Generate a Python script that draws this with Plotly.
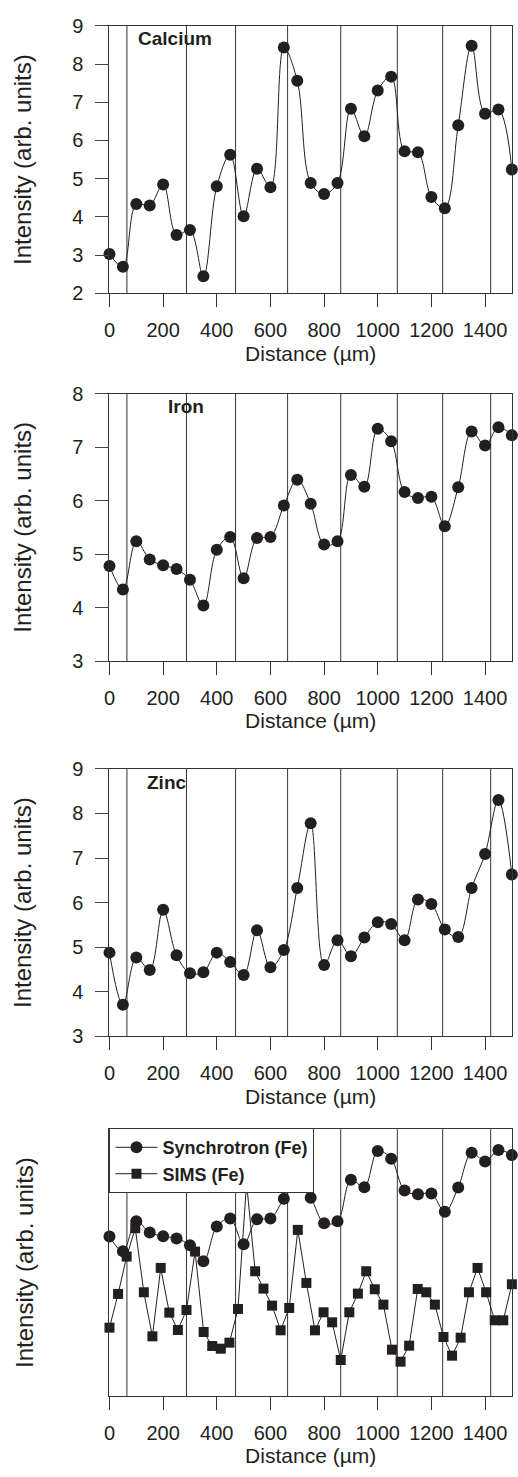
import plotly.graph_objects as go

# ---- data -------------------------------------------------------------
distance = [0, 50, 100, 150, 200, 250, 300, 350, 400, 450, 500, 550, 600,
            650, 700, 750, 800, 850, 900, 950, 1000, 1050, 1100, 1150, 1200,
            1250, 1300, 1350, 1400, 1450, 1500]

calcium = [3.03, 2.70, 4.34, 4.30, 4.85, 3.53, 3.66, 2.45, 4.80, 5.63, 4.02,
           5.26, 4.78, 8.43, 7.56, 4.89, 4.60, 4.89, 6.83, 6.11, 7.31, 7.67,
           5.72, 5.69, 4.52, 4.23, 6.40, 8.48, 6.70, 6.81, 5.24]

iron = [4.78, 4.34, 5.24, 4.90, 4.79, 4.72, 4.52, 4.04, 5.08, 5.32, 4.55,
        5.30, 5.32, 5.91, 6.39, 5.94, 5.18, 5.24, 6.48, 6.26, 7.34, 7.11,
        6.16, 6.05, 6.07, 5.52, 6.25, 7.29, 7.03, 7.37, 7.22]

zinc = [4.88, 3.71, 4.77, 4.49, 5.84, 4.82, 4.42, 4.44, 4.88, 4.67, 4.38,
        5.38, 4.55, 4.94, 6.33, 7.78, 4.60, 5.16, 4.80, 5.22, 5.56, 5.52,
        5.16, 6.07, 5.97, 5.40, 5.23, 6.33, 7.09, 8.30, 6.63]

sims_distance = [0, 32, 64, 96, 128, 160, 191, 223, 255, 287, 319, 351, 383,
                 415, 447, 479, 511, 543, 574, 606, 638, 670, 702, 734, 766,
                 798, 830, 862, 894, 926, 957, 989, 1021, 1053, 1085, 1117,
                 1149, 1181, 1213, 1245, 1277, 1309, 1340, 1372, 1404, 1436,
                 1468, 1500]

sims_fe = [2.05, 3.06, 4.18, 5.03, 3.11, 1.79, 3.84, 2.50, 1.98, 2.58, 4.33,
           1.92, 1.50, 1.42, 1.60, 2.61, 6.38, 3.74, 3.22, 2.71, 1.97, 2.64,
           4.98, 3.39, 1.97, 2.51, 2.21, 1.08, 2.51, 3.07, 3.74, 3.20, 2.74,
           1.39, 1.03, 1.51, 3.21, 3.11, 2.74, 1.77, 1.21, 1.75, 3.11, 3.84,
           3.11, 2.27, 2.27, 3.35]

band_edges = [65, 287, 470, 664, 862, 1073, 1242, 1421]
x_ticks = [0, 200, 400, 600, 800, 1000, 1200, 1400]

# ---- layout geometry (pixels) ----------------------------------------
W, H = 518, 1477
PLOT_L, PLOT_R = 104.7, 511.8
PANELS = [(15.0, 286.7), (388.3, 660.0), (769.3, 1041.0), (1135.0, 1406.0)]
Y_RANGES = [(2, 9), (3, 8), (3, 9), (0, 8)]

INK = "#231f20"
FONT = "Liberation Sans, Arial, sans-serif"

fig = go.Figure()


def ax_name(kind, i):
    return kind if i == 0 else f"{kind}{i + 1}"


def ref(kind, i):
    return kind if i == 0 else f"{kind}{i + 1}"


circle = dict(symbol="circle", size=12, color=INK, line=dict(width=0))
square = dict(symbol="square", size=10, color=INK, line=dict(width=0))

for i, series in enumerate([calcium, iron, zinc]):
    fig.add_trace(go.Scatter(
        x=distance, y=series, mode="lines+markers",
        line=dict(color=INK, width=1, shape="spline", smoothing=1.0),
        marker=circle, cliponaxis=False, showlegend=False,
        xaxis=ref("x", i), yaxis=ref("y", i)))

fig.add_trace(go.Scatter(
    x=distance, y=iron, mode="lines+markers", name="Synchrotron (Fe)",
    line=dict(color=INK, width=1, shape="spline", smoothing=1.0),
    marker=circle, cliponaxis=False, xaxis="x4", yaxis="y4"))
fig.add_trace(go.Scatter(
    x=sims_distance, y=sims_fe, mode="lines+markers", name="SIMS (Fe)",
    line=dict(color=INK, width=1), marker=square, cliponaxis=False,
    xaxis="x4", yaxis="y4"))

layout = {}
for i, ((top, bot), (y0, y1)) in enumerate(zip(PANELS, Y_RANGES)):
    xd = [PLOT_L / W, PLOT_R / W]
    yd = [1 - bot / H, 1 - top / H]
    last = i == 3
    layout[ax_name("xaxis", i)] = dict(
        domain=xd, range=[0, 1500], anchor=ref("y", i),
        showline=True, mirror=True, linecolor="#333", linewidth=1,
        ticks="outside", ticklen=13, tickcolor="#333", tickwidth=1,
        tickvals=x_ticks, showgrid=False, zeroline=False,
        tickfont=dict(family=FONT, size=20, color=INK),
        ticklabelstandoff=6,
        title=dict(text="Distance (µm)", standoff=5,
                   font=dict(family=FONT, size=21, color=INK)))
    layout[ax_name("yaxis", i)] = dict(
        domain=yd, range=[y0, y1], anchor=ref("x", i),
        showline=True, mirror=True, linecolor="#333", linewidth=1,
        ticks="" if last else "outside", ticklen=13, tickcolor="#444",
        tickwidth=1, dtick=1, showticklabels=not last,
        ticklabelstandoff=8,
        showgrid=False, zeroline=False,
        tickfont=dict(family=FONT, size=20, color=INK),
        title=dict(text="Intensity (arb. units)",
                   standoff=68 if last else 33,
                   font=dict(family=FONT, size=24, color=INK)))

shapes = []
for i in range(4):
    for edge in band_edges:
        shapes.append(dict(type="line", xref=ref("x", i),
                           yref=f"{ref('y', i)} domain",
                           x0=edge, x1=edge, y0=0, y1=1, layer="below",
                           line=dict(color="#333", width=1)))

annotations = []
for i, (label, xf, yf) in enumerate([("Calcium", 0.066, 0.952),
                                     ("Iron", 0.140, 0.951),
                                     ("Zinc", 0.088, 0.949)]):
    annotations.append(dict(text=label, xref=f"{ref('x', i)} domain",
                            yref=f"{ref('y', i)} domain", x=xf, y=yf,
                            xanchor="left", yanchor="middle", showarrow=False,
                            font=dict(family=FONT, size=19, color=INK,
                                      weight="bold")))

fig.update_layout(
    width=W, height=H, margin=dict(l=0, r=0, t=0, b=0),
    paper_bgcolor="white", plot_bgcolor="white",
    shapes=shapes, annotations=annotations,
    legend=dict(x=PLOT_L / W, y=1 - 1134 / H, xanchor="left", yanchor="top",
                bgcolor="white", bordercolor="#333", borderwidth=1,
                itemwidth=42,
                font=dict(family=FONT, size=18, color=INK, weight="bold")),
    **layout)

fig.write_html("out.html")
